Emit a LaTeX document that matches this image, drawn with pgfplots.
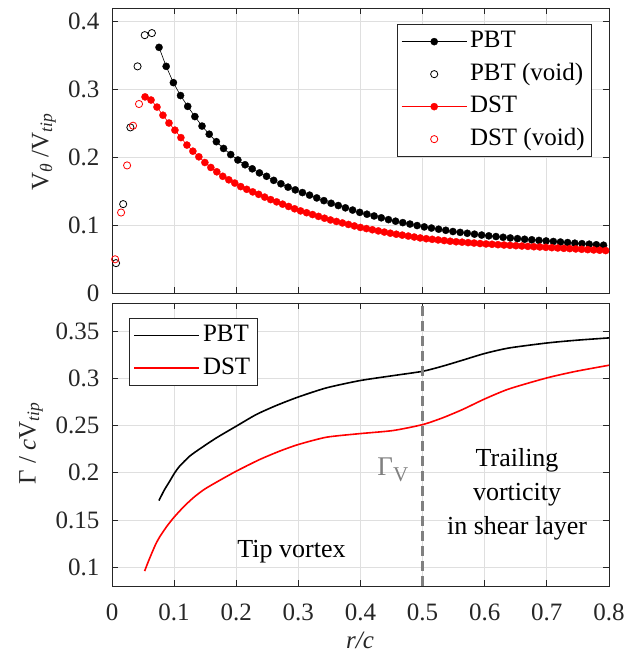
\documentclass[border=0pt]{standalone}
\usepackage{fontspec}
\setmainfont{Liberation Serif}
\usepackage{pgfplots}
\pgfplotsset{compat=1.18}
\definecolor{axcol}{RGB}{38,38,38}
\definecolor{gridcol}{RGB}{223,223,223}
\definecolor{refgray}{RGB}{128,128,128}
\newcommand{\bigfont}{\fontsize{25bp}{30bp}\selectfont}
\pgfplotsset{
  mystyle/.style={
    scale only axis, width=497bp,
    xmin=0, xmax=0.8,
    axis line style={axcol, line width=0.9bp},
    every tick/.style={axcol, line width=0.9bp},
    tick align=inside, major tick length=6bp,
    xtick={0,0.1,0.2,0.3,0.4,0.5,0.6,0.7,0.8},
    grid=major, major grid style={gridcol, line width=0.8bp},
    ticklabel style={font=\bigfont, text=axcol},
    yticklabel style={xshift=-4bp},
    xticklabel style={yshift=-9bp},
    /pgf/number format/assume math mode=true,
    label style={font=\bigfont, text=axcol},
    legend cell align=left,
    legend style={draw=axcol, line width=0.8bp, fill=white, font=\bigfont,
      inner xsep=4bp, inner ysep=1bp,
      nodes={inner ysep=4.5bp, inner xsep=3bp, text height=0.72em, text depth=0.22em}},
  },
  limg/.style={legend image code/.code={\draw[mark repeat=2,mark phase=2,##1] plot coordinates {(0bp,0bp) (32.5bp,0bp) (65bp,0bp)};}},
}
\begin{document}
\bigfont
\begin{tikzpicture}
\path[use as bounding box] (0,0) rectangle (639bp,660bp);
% top axis
\begin{axis}[mystyle, at={(112bp,367bp)}, anchor=south west, height=285bp,
  ymin=0, ymax=0.42, ytick={0,0.1,0.2,0.3,0.4}, xticklabels={},
  ylabel={V\textsubscript{\textit{θ}} /V\textsubscript{\textit{tip}}},
  ylabel style={at={(axis description cs:-0.137,0.495)}, anchor=center},
  legend style={at={(axis description cs:1,1)}, anchor=north east, xshift=-17bp, yshift=-16bp},
]
\addplot[black, line width=0.6bp, mark=*, mark size=3.6bp, mark options={solid, fill=black, draw=black, line width=0.3bp}, limg] coordinates {
(0.0757,0.362)(0.0872,0.334)(0.0988,0.310)(0.1103,0.291)(0.1219,0.275)(0.1334,0.260)(0.1449,0.246)(0.1565,0.234)(0.1680,0.223)(0.1796,0.213)(0.1911,0.204)(0.2026,0.196)(0.2142,0.189)(0.2257,0.183)(0.2373,0.177)(0.2488,0.172)(0.2603,0.166)(0.2719,0.161)(0.2834,0.156)(0.2950,0.152)(0.3065,0.148)(0.3180,0.1442)(0.3296,0.1401)(0.3411,0.1361)(0.3527,0.1322)(0.3642,0.1289)(0.3757,0.1255)(0.3873,0.1222)(0.3988,0.1188)(0.4104,0.1161)(0.4219,0.1135)(0.4334,0.1108)(0.4450,0.1081)(0.4565,0.1058)(0.4681,0.1037)(0.4796,0.1016)(0.4911,0.0994)(0.5027,0.0974)(0.5142,0.0957)(0.5258,0.0940)(0.5373,0.0924)(0.5488,0.0906)(0.5604,0.0893)(0.5719,0.0880)(0.5835,0.0867)(0.5950,0.0854)(0.6065,0.0842)(0.6181,0.0832)(0.6296,0.0821)(0.6411,0.0811)(0.6527,0.0801)(0.6642,0.0792)(0.6757,0.0784)(0.6873,0.0775)(0.6988,0.0767)(0.7104,0.0759)(0.7219,0.0751)(0.7334,0.0743)(0.7450,0.0734)(0.7565,0.0727)(0.7681,0.0719)(0.7796,0.0711)(0.7912,0.0704)
};
\addlegendentry{PBT}
\addplot[only marks, black, mark=o, mark size=3.6bp, mark options={line width=0.8bp}, limg] coordinates {
(0.0065,0.044)(0.0180,0.131)(0.0296,0.244)(0.0411,0.334)(0.0527,0.380)(0.0642,0.383)
};
\addlegendentry{PBT (void)}
\addplot[red, line width=0.6bp, mark=*, mark size=3.6bp, mark options={solid, fill=red, draw=red, line width=0.3bp}, limg] coordinates {
(0.0532,0.289)(0.0628,0.2844)(0.0724,0.274)(0.0820,0.262)(0.0917,0.2505)(0.1013,0.240)(0.1109,0.229)(0.1206,0.218)(0.1302,0.209)(0.1398,0.2007)(0.1495,0.1923)(0.1591,0.185)(0.1687,0.1786)(0.1783,0.172)(0.1880,0.1668)(0.1976,0.162)(0.2072,0.1568)(0.2169,0.1528)(0.2265,0.1490)(0.2361,0.1454)(0.2458,0.1413)(0.2554,0.1376)(0.2650,0.1343)(0.2746,0.1309)(0.2843,0.1275)(0.2939,0.1241)(0.3035,0.1210)(0.3132,0.1183)(0.3228,0.1156)(0.3324,0.1129)(0.3421,0.1102)(0.3517,0.1076)(0.3613,0.1054)(0.3709,0.1032)(0.3806,0.1010)(0.3902,0.0988)(0.3998,0.0966)(0.4095,0.0949)(0.4191,0.0932)(0.4287,0.0915)(0.4384,0.0898)(0.4480,0.0881)(0.4576,0.0866)(0.4672,0.0853)(0.4769,0.0839)(0.4865,0.0825)(0.4961,0.0811)(0.5058,0.0800)(0.5154,0.0791)(0.5250,0.0782)(0.5347,0.0773)(0.5443,0.0763)(0.5539,0.0755)(0.5635,0.0749)(0.5732,0.0742)(0.5828,0.0736)(0.5924,0.0729)(0.6021,0.0723)(0.6117,0.0718)(0.6213,0.0712)(0.6310,0.0707)(0.6406,0.0702)(0.6502,0.0697)(0.6598,0.0692)(0.6695,0.0687)(0.6791,0.0682)(0.6887,0.0678)(0.6984,0.0673)(0.7080,0.0668)(0.7176,0.0663)(0.7273,0.0658)(0.7369,0.0654)(0.7465,0.0649)(0.7561,0.0644)(0.7658,0.0639)(0.7754,0.0634)(0.7850,0.0630)(0.7947,0.0625)
};
\addlegendentry{DST}
\addplot[only marks, red, mark=o, mark size=3.6bp, mark options={line width=0.8bp}, limg] coordinates {
(0.0050,0.0497)(0.0146,0.1186)(0.0243,0.188)(0.0339,0.2465)(0.0435,0.2785)
};
\addlegendentry{DST (void)}
\end{axis}
% bottom axis
\begin{axis}[mystyle, at={(112bp,74bp)}, anchor=south west, height=283bp,
  ymin=0.08, ymax=0.38, ytick={0.1,0.15,0.2,0.25,0.3,0.35},
  xlabel={\textit{r/c}},
  xlabel style={at={(axis description cs:0.499,-0.191)}, anchor=center},
  ylabel={Γ / \textit{c}V\textsubscript{\textit{tip}}},
  ylabel style={at={(axis description cs:-0.163,0.505)}, anchor=center},
  legend style={at={(axis description cs:0,1)}, anchor=north west, xshift=17bp, yshift=-15bp},
]
\addplot[black, line width=1.6bp, smooth, tension=0.4, limg] coordinates {
(0.0756,0.1706)(0.0840,0.1815)(0.0928,0.191)(0.1005,0.1995)(0.1088,0.207)(0.125,0.2176)(0.141,0.2252)(0.168,0.237)(0.2,0.2494)(0.232,0.2617)(0.2643,0.2713)(0.3,0.2804)(0.345,0.2900)(0.3987,0.2977)(0.4524,0.303)(0.5,0.3076)(0.532,0.313)(0.564,0.3193)(0.6,0.3265)(0.639,0.3323)(0.7,0.3376)(0.747,0.3405)(0.8,0.343)
};
\addlegendentry{PBT}
\addplot[red, line width=1.6bp, smooth, tension=0.4, limg] coordinates {
(0.0525,0.0958)(0.0585,0.1060)(0.0645,0.1155)(0.0705,0.1245)(0.0767,0.1320)(0.0880,0.1430)(0.1,0.1530)(0.1150,0.1637)(0.1306,0.1734)(0.148,0.1822)(0.168,0.19)(0.2,0.2017)(0.2375,0.214)(0.27,0.2230)(0.3,0.23)(0.345,0.2377)(0.3987,0.2415)(0.4524,0.2448)(0.5,0.2511)(0.532,0.2582)(0.564,0.267)(0.6,0.2783)(0.639,0.2889)(0.7,0.3006)(0.747,0.3076)(0.8,0.314)
};
\addlegendentry{DST}
\addplot[refgray, line width=3.5bp, dash pattern=on 10bp off 5bp, forget plot] coordinates {(0.5,0.08)(0.5,0.38)};
\node[text=refgray, font=\fontsize{27bp}{30bp}\selectfont] at (axis cs:0.452,0.2035) {Γ\raisebox{-0.5ex}{\fontsize{21bp}{24bp}\selectfont V}};
\node[font=\fontsize{26bp}{30bp}\selectfont] at (axis cs:0.289,0.1167) {Tip vortex};
\node[font=\fontsize{26bp}{30bp}\selectfont, align=center, inner sep=0pt] at (axis cs:0.652,0.177) {Trailing\\[4bp]vorticity\\[4bp]in shear layer};
\end{axis}
\end{tikzpicture}
\end{document}
